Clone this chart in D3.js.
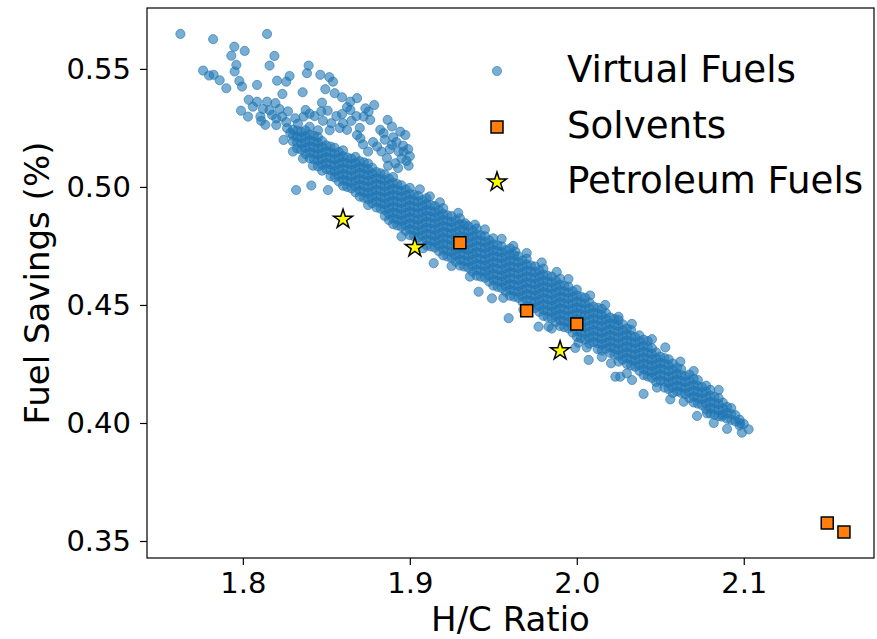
<!DOCTYPE html>
<html>
<head>
<meta charset="utf-8">
<script src="https://cdn.jsdelivr.net/npm/d3@7"></script>
<style>
  body { margin: 0; background: #fff; }
  text { font-family: "DejaVu Sans", sans-serif; fill: #000; }
</style>
</head>
<body>
<div id="chart"></div>
<script>
var width = 877;
var height = 639;
var margin = {top: 8, right: 3, bottom: 81, left: 147};

// tick values
var xTicks = [1.8, 1.9, 2.0, 2.1];
var yTicks = [0.35, 0.40, 0.45, 0.50, 0.55];

var seriesNames = ["Virtual Fuels", "Solvents", "Petroleum Fuels"];

// solvents (H/C ratio, fuel savings)
var solventHC = [1.930, 1.970, 2.000, 2.150, 2.160];
var solventFS = [0.4763, 0.4475, 0.4419, 0.3576, 0.3538];

// petroleum fuels
var petroHC = [1.860, 1.903, 1.990];
var petroFS = [0.4863, 0.4743, 0.4306];

// virtual fuels, dense band read column by column: [H/C, [fuel savings...]]
var virtualBand = [
  [1.830, [0.5193, 0.5218, 0.5243]],
  [1.8325, [0.5163, 0.5188, 0.5213, 0.5238]],
  [1.835, [0.5158, 0.5183, 0.5208, 0.5233]],
  [1.8375, [0.5140, 0.5165, 0.5190, 0.5215, 0.5240]],
  [1.840, [0.5122, 0.5147, 0.5172, 0.5197, 0.5222]],
  [1.8425, [0.5117, 0.5142, 0.5167, 0.5192, 0.5217]],
  [1.845, [0.5087, 0.5112, 0.5137, 0.5162, 0.5187, 0.5212]],
  [1.8475, [0.5069, 0.5094, 0.5119, 0.5144, 0.5169, 0.5194]],
  [1.850, [0.5076, 0.5101, 0.5126, 0.5151, 0.5176]],
  [1.8525, [0.5046, 0.5071, 0.5096, 0.5121, 0.5146, 0.5171]],
  [1.855, [0.5040, 0.5065, 0.5090, 0.5116, 0.5141, 0.5166]],
  [1.8575, [0.5023, 0.5048, 0.5073, 0.5098, 0.5123, 0.5148]],
  [1.860, [0.5005, 0.5030, 0.5055, 0.5080, 0.5105, 0.5130, 0.5155]],
  [1.8625, [0.5000, 0.5025, 0.5050, 0.5075, 0.5100, 0.5125]],
  [1.865, [0.4994, 0.5019, 0.5044, 0.5070, 0.5095, 0.5120]],
  [1.8675, [0.4977, 0.5002, 0.5027, 0.5052, 0.5077, 0.5102, 0.5127]],
  [1.870, [0.4959, 0.4984, 0.5009, 0.5034, 0.5059, 0.5084, 0.5109]],
  [1.8725, [0.4954, 0.4979, 0.5004, 0.5029, 0.5054, 0.5079, 0.5104]],
  [1.875, [0.4923, 0.4948, 0.4973, 0.4998, 0.5024, 0.5049, 0.5074, 0.5099]],
  [1.8775, [0.4931, 0.4956, 0.4981, 0.5006, 0.5031, 0.5056, 0.5081]],
  [1.880, [0.4913, 0.4938, 0.4963, 0.4988, 0.5013, 0.5038, 0.5063]],
  [1.8825, [0.4908, 0.4933, 0.4958, 0.4983, 0.5008, 0.5033, 0.5058]],
  [1.885, [0.4877, 0.4902, 0.4927, 0.4952, 0.4978, 0.5003, 0.5028, 0.5053]],
  [1.8875, [0.4860, 0.4885, 0.4910, 0.4935, 0.4960, 0.4985, 0.5010, 0.5035]],
  [1.890, [0.4842, 0.4867, 0.4892, 0.4917, 0.4942, 0.4967, 0.4992, 0.5017, 0.5042]],
  [1.8925, [0.4837, 0.4862, 0.4887, 0.4912, 0.4937, 0.4962, 0.4987, 0.5012]],
  [1.895, [0.4831, 0.4856, 0.4881, 0.4906, 0.4932, 0.4957, 0.4982, 0.5007]],
  [1.8975, [0.4814, 0.4839, 0.4864, 0.4889, 0.4914, 0.4939, 0.4964, 0.4989]],
  [1.900, [0.4796, 0.4821, 0.4846, 0.4871, 0.4896, 0.4921, 0.4946, 0.4971, 0.4996]],
  [1.9025, [0.4791, 0.4816, 0.4841, 0.4866, 0.4891, 0.4916, 0.4941, 0.4966]],
  [1.905, [0.4786, 0.4811, 0.4836, 0.4861, 0.4887, 0.4912, 0.4937, 0.4962]],
  [1.9075, [0.4769, 0.4794, 0.4819, 0.4844, 0.4869, 0.4894, 0.4919, 0.4944]],
  [1.910, [0.4752, 0.4777, 0.4802, 0.4827, 0.4852, 0.4877, 0.4902, 0.4927, 0.4952]],
  [1.9125, [0.4748, 0.4773, 0.4798, 0.4823, 0.4848, 0.4873, 0.4898, 0.4923]],
  [1.915, [0.4743, 0.4768, 0.4793, 0.4818, 0.4844, 0.4869, 0.4894, 0.4919]],
  [1.9175, [0.4727, 0.4752, 0.4777, 0.4802, 0.4827, 0.4852, 0.4877, 0.4902]],
  [1.920, [0.4710, 0.4735, 0.4760, 0.4785, 0.4810, 0.4835, 0.4860, 0.4885, 0.4910]],
  [1.9225, [0.4705, 0.4730, 0.4755, 0.4780, 0.4805, 0.4830, 0.4855, 0.4880]],
  [1.925, [0.4700, 0.4725, 0.4750, 0.4775, 0.4801, 0.4826, 0.4851, 0.4876]],
  [1.9275, [0.4684, 0.4709, 0.4734, 0.4759, 0.4784, 0.4809, 0.4834, 0.4859]],
  [1.930, [0.4667, 0.4692, 0.4717, 0.4742, 0.4767, 0.4792, 0.4817, 0.4842, 0.4867]],
  [1.9325, [0.4663, 0.4688, 0.4713, 0.4738, 0.4763, 0.4788, 0.4813, 0.4838]],
  [1.935, [0.4658, 0.4683, 0.4708, 0.4733, 0.4759, 0.4784, 0.4809, 0.4834]],
  [1.9375, [0.4641, 0.4666, 0.4691, 0.4716, 0.4741, 0.4766, 0.4791, 0.4816]],
  [1.940, [0.4624, 0.4649, 0.4674, 0.4699, 0.4724, 0.4749, 0.4774, 0.4799, 0.4824]],
  [1.9425, [0.4620, 0.4645, 0.4670, 0.4695, 0.4720, 0.4745, 0.4770, 0.4795]],
  [1.945, [0.4615, 0.4640, 0.4665, 0.4690, 0.4716, 0.4741, 0.4766, 0.4791]],
  [1.9475, [0.4599, 0.4624, 0.4649, 0.4674, 0.4699, 0.4724, 0.4749, 0.4774]],
  [1.950, [0.4582, 0.4607, 0.4632, 0.4657, 0.4682, 0.4707, 0.4732, 0.4757, 0.4782]],
  [1.9525, [0.4577, 0.4602, 0.4627, 0.4652, 0.4677, 0.4702, 0.4727, 0.4752]],
  [1.955, [0.4572, 0.4597, 0.4622, 0.4647, 0.4673, 0.4698, 0.4723, 0.4748]],
  [1.9575, [0.4556, 0.4581, 0.4606, 0.4631, 0.4656, 0.4681, 0.4706, 0.4731]],
  [1.960, [0.4539, 0.4564, 0.4589, 0.4614, 0.4639, 0.4664, 0.4689, 0.4714, 0.4739]],
  [1.9625, [0.4535, 0.4560, 0.4585, 0.4610, 0.4635, 0.4660, 0.4685, 0.4710]],
  [1.965, [0.4530, 0.4555, 0.4580, 0.4605, 0.4631, 0.4656, 0.4681, 0.4706]],
  [1.9675, [0.4513, 0.4538, 0.4563, 0.4588, 0.4613, 0.4638, 0.4663, 0.4688]],
  [1.970, [0.4496, 0.4521, 0.4546, 0.4571, 0.4596, 0.4621, 0.4646, 0.4671, 0.4696]],
  [1.9725, [0.4492, 0.4517, 0.4542, 0.4567, 0.4592, 0.4617, 0.4642, 0.4667]],
  [1.975, [0.4487, 0.4512, 0.4537, 0.4562, 0.4588, 0.4613, 0.4638, 0.4663]],
  [1.9775, [0.4471, 0.4496, 0.4521, 0.4546, 0.4571, 0.4596, 0.4621, 0.4646]],
  [1.980, [0.4454, 0.4479, 0.4504, 0.4529, 0.4554, 0.4579, 0.4604, 0.4629, 0.4654]],
  [1.9825, [0.4449, 0.4474, 0.4499, 0.4524, 0.4549, 0.4574, 0.4599, 0.4624]],
  [1.985, [0.4444, 0.4469, 0.4494, 0.4519, 0.4545, 0.4570, 0.4595, 0.4620]],
  [1.9875, [0.4428, 0.4453, 0.4478, 0.4503, 0.4528, 0.4553, 0.4578, 0.4603]],
  [1.990, [0.4411, 0.4436, 0.4461, 0.4486, 0.4511, 0.4536, 0.4561, 0.4586, 0.4611]],
  [1.9925, [0.4406, 0.4431, 0.4456, 0.4481, 0.4506, 0.4531, 0.4556, 0.4581]],
  [1.995, [0.4401, 0.4426, 0.4451, 0.4476, 0.4502, 0.4527, 0.4552, 0.4577]],
  [1.9975, [0.4383, 0.4408, 0.4433, 0.4458, 0.4483, 0.4508, 0.4533, 0.4558]],
  [2.000, [0.4365, 0.4390, 0.4415, 0.4440, 0.4465, 0.4490, 0.4515, 0.4540, 0.4565]],
  [2.0025, [0.4360, 0.4385, 0.4410, 0.4435, 0.4460, 0.4485, 0.4510, 0.4535]],
  [2.005, [0.4354, 0.4379, 0.4404, 0.4429, 0.4455, 0.4480, 0.4505, 0.4530]],
  [2.0075, [0.4336, 0.4361, 0.4386, 0.4411, 0.4436, 0.4461, 0.4486, 0.4511]],
  [2.010, [0.4343, 0.4368, 0.4393, 0.4418, 0.4443, 0.4468, 0.4493]],
  [2.0125, [0.4313, 0.4338, 0.4363, 0.4388, 0.4413, 0.4438, 0.4463, 0.4488]],
  [2.015, [0.4307, 0.4332, 0.4357, 0.4382, 0.4408, 0.4433, 0.4458, 0.4483]],
  [2.0175, [0.4315, 0.4340, 0.4365, 0.4390, 0.4415, 0.4440, 0.4465]],
  [2.020, [0.4297, 0.4322, 0.4347, 0.4372, 0.4397, 0.4422, 0.4447]],
  [2.0225, [0.4291, 0.4316, 0.4341, 0.4366, 0.4391, 0.4416, 0.4441]],
  [2.025, [0.4260, 0.4285, 0.4310, 0.4335, 0.4361, 0.4386, 0.4411, 0.4436]],
  [2.0275, [0.4268, 0.4293, 0.4318, 0.4343, 0.4368, 0.4393, 0.4418]],
  [2.030, [0.4250, 0.4275, 0.4300, 0.4325, 0.4350, 0.4375, 0.4400]],
  [2.0325, [0.4244, 0.4269, 0.4294, 0.4319, 0.4344, 0.4369, 0.4394]],
  [2.035, [0.4238, 0.4263, 0.4288, 0.4314, 0.4339, 0.4364]],
  [2.0375, [0.4221, 0.4246, 0.4271, 0.4296, 0.4321, 0.4346, 0.4371]],
  [2.040, [0.4203, 0.4228, 0.4253, 0.4278, 0.4303, 0.4328, 0.4353]],
  [2.0425, [0.4197, 0.4222, 0.4247, 0.4272, 0.4297, 0.4322, 0.4347]],
  [2.045, [0.4191, 0.4216, 0.4241, 0.4267, 0.4292, 0.4317]],
  [2.0475, [0.4174, 0.4199, 0.4224, 0.4249, 0.4274, 0.4299]],
  [2.050, [0.4181, 0.4206, 0.4231, 0.4256, 0.4281]],
  [2.0525, [0.4150, 0.4175, 0.4200, 0.4225, 0.4250, 0.4275]],
  [2.055, [0.4144, 0.4169, 0.4194, 0.4220, 0.4245, 0.4270]],
  [2.0575, [0.4127, 0.4152, 0.4177, 0.4202, 0.4227, 0.4252]],
  [2.060, [0.4134, 0.4159, 0.4184, 0.4209, 0.4234]],
  [2.0625, [0.4128, 0.4153, 0.4178, 0.4203, 0.4228]],
  [2.065, [0.4122, 0.4147, 0.4173, 0.4198]],
  [2.0675, [0.4105, 0.4130, 0.4155, 0.4180, 0.4205]],
  [2.070, [0.4087, 0.4112, 0.4137, 0.4162, 0.4187]],
  [2.0725, [0.4082, 0.4107, 0.4132, 0.4157, 0.4182]],
  [2.075, [0.4076, 0.4101, 0.4127, 0.4152]],
  [2.0775, [0.4058, 0.4083, 0.4108, 0.4133, 0.4158]],
  [2.080, [0.4040, 0.4065, 0.4090, 0.4115, 0.4140]],
  [2.0825, [0.4035, 0.4060, 0.4085, 0.4110]],
  [2.085, [0.4029, 0.4054, 0.4080, 0.4105]],
  [2.0875, [0.4036, 0.4061, 0.4086]],
  [2.090, [0.4018, 0.4043, 0.4068]],
  [2.0925, [0.4013, 0.4038, 0.4063]],
  [2.095, [0.4007, 0.4033]],
  [2.0975, [0.3989, 0.4014]],
  [2.100, [0.3996]]
];

// virtual fuels, scattered points outside the dense band
var virtualScatter = [
  [1.7626, 0.5648], [1.7822, 0.5626], [1.8145, 0.5648], [1.7949, 0.5594], [1.8011, 0.5576],
  [1.7931, 0.5556], [1.8189, 0.5555], [1.8160, 0.5514], [1.8394, 0.5514], [1.7961, 0.5517],
  [1.7951, 0.5489], [1.7762, 0.5493], [1.7798, 0.5472], [1.7825, 0.5475], [1.7861, 0.5452],
  [1.7901, 0.5418], [1.7979, 0.5449], [1.7995, 0.5425], [1.8085, 0.5432], [1.8205, 0.5450],
  [1.8260, 0.5446], [1.8280, 0.5470], [1.8384, 0.5482], [1.8464, 0.5475], [1.8518, 0.5465],
  [1.8540, 0.5446], [1.8237, 0.5394], [1.8358, 0.5401], [1.8494, 0.5414], [1.8550, 0.5397],
  [1.8594, 0.5380], [1.8474, 0.5357], [1.8508, 0.5323], [1.8035, 0.5369], [1.8085, 0.5361],
  [1.8145, 0.5361], [1.8195, 0.5355], [1.7989, 0.5323], [1.8031, 0.5298], [1.8105, 0.5298],
  [1.8175, 0.5305], [1.8135, 0.5263], [1.8235, 0.5298], [1.8376, 0.5326], [1.8314, 0.5291],
  [1.8364, 0.5298], [1.8265, 0.5249], [1.8644, 0.5361], [1.8684, 0.5376], [1.8624, 0.5338],
  [1.8644, 0.5326], [1.8594, 0.5309], [1.8734, 0.5333], [1.8753, 0.5319], [1.8787, 0.5347],
  [1.8723, 0.5298], [1.8763, 0.5284], [1.8624, 0.5242], [1.8684, 0.5220], [1.8704, 0.5206],
  [1.8867, 0.5284], [1.8893, 0.5256], [1.8823, 0.5242], [1.8843, 0.5228], [1.8943, 0.5234],
  [1.8973, 0.5220], [1.8893, 0.5178], [1.8933, 0.5150], [1.8963, 0.5150], [1.8993, 0.5090],
  [1.8863, 0.5122], [1.8913, 0.5100], [1.8804, 0.5171], [1.8319, 0.4987], [1.8410, 0.5006],
  [1.8510, 0.4987], [1.8244, 0.5199], [1.8284, 0.5228], [1.8260, 0.5275], [1.8330, 0.5268],
  [1.8400, 0.5255], [1.8450, 0.5240], [1.8200, 0.5262], [1.8300, 0.5150], [1.8360, 0.5120],
  [1.8420, 0.5090], [1.9143, 0.4677], [1.9412, 0.4556], [1.9492, 0.4528], [1.9592, 0.4444],
  [1.9771, 0.4408], [1.9831, 0.4408], [1.9991, 0.4318], [2.0071, 0.4267], [2.0205, 0.4253],
  [2.0231, 0.4196], [2.0260, 0.4196], [2.0331, 0.4182], [2.0400, 0.4123], [2.0780, 0.4041],
  [2.0869, 0.4027], [2.0979, 0.3999], [2.0989, 0.3959], [2.1029, 0.3973], [1.9332, 0.4846],
  [1.9632, 0.4726], [1.9060, 0.4990], [1.9180, 0.4935], [1.9390, 0.4840], [1.9550, 0.4780],
  [1.9700, 0.4720], [1.9880, 0.4640], [2.0080, 0.4540], [2.0250, 0.4450], [2.0450, 0.4355],
  [2.0620, 0.4260], [1.8950, 0.4790], [1.9250, 0.4665], [1.9560, 0.4530], [1.9700, 0.4470],
  [2.0010, 0.4340], [2.0150, 0.4280], [2.0480, 0.4150], [2.0640, 0.4090], [2.0820, 0.4000],
  // upper tail and upper-left cluster
  [1.8850, 0.5200], [1.8900, 0.5210], [1.8920, 0.5190], [1.8960, 0.5175], [1.8990, 0.5160],
  [1.8880, 0.5160], [1.8830, 0.5150], [1.8950, 0.5120], [1.8980, 0.5110], [1.9000, 0.5130],
  [1.8930, 0.5080], [1.8870, 0.5090], [1.8780, 0.5190], [1.8750, 0.5150], [1.8720, 0.5180],
  [1.8430, 0.5300], [1.8480, 0.5280], [1.8530, 0.5270], [1.8560, 0.5300], [1.8580, 0.5250],
  [1.8520, 0.5240], [1.8470, 0.5320], [1.8400, 0.5310], [1.8600, 0.5270], [1.8650, 0.5280],
  [1.8680, 0.5300], [1.8700, 0.5250], [1.8060, 0.5340], [1.8120, 0.5330], [1.8160, 0.5325],
  [1.8220, 0.5330], [1.8270, 0.5320], [1.8110, 0.5280], [1.8200, 0.5290],
  // fuzzy upper and lower edges of the band
  [1.9120, 0.4960], [1.9290, 0.4890], [1.9450, 0.4820], [1.9620, 0.4750], [1.9790, 0.4680],
  [1.9950, 0.4610], [2.0170, 0.4500], [2.0330, 0.4420], [2.0530, 0.4320], [2.0700, 0.4220],
  [2.0850, 0.4140], [1.9080, 0.4740], [1.9360, 0.4620], [1.9680, 0.4480], [1.9850, 0.4400],
  [2.0060, 0.4320], [2.0300, 0.4210], [2.0560, 0.4100], [2.0720, 0.4030], [2.0900, 0.3975]
];

var virtualFuels = [];
virtualBand.forEach(function(col) {
  col[1].forEach(function(v) {
    virtualFuels.push({hc: col[0], fs: v})
  })
});
virtualScatter.forEach(function(p) {
  virtualFuels.push({hc: p[0], fs: p[1]})
});

var solvents = solventHC.map(function(d, i) { return {hc: d, fs: solventFS[i]} });
var petroleum = petroHC.map(function(d, i) { return {hc: d, fs: petroFS[i]} });

var svg = d3.select("#chart").append("svg")
  .attr("width", width)
  .attr("height", height)

var x = d3.scaleLinear().domain([1.7426, 2.178]).range([margin.left, width - margin.right])
var y = d3.scaleLinear().domain([0.3428, 0.5758]).range([height - margin.bottom, margin.top])

var blue = "#1f77b4";
var starPath = d3.symbol().type(d3.symbolStar).size(112);
var squarePath = d3.symbol().type(d3.symbolSquare).size(144);

// virtual fuels
svg.append("g").selectAll("circle")
  .data(virtualFuels)
  .enter().append("circle")
  .attr("cx", function(d) { return x(d.hc) })
  .attr("cy", function(d) { return y(d.fs) })
  .attr("r", 4.6)
  .attr("fill", blue)
  .attr("fill-opacity", 0.6)
  .attr("stroke", blue)
  .attr("stroke-opacity", 0.6)
  .attr("stroke-width", 1)

// solvents
svg.append("g").selectAll("path")
  .data(solvents)
  .enter().append("path")
  .attr("d", squarePath)
  .attr("transform", function(d) { return "translate(" + x(d.hc) + "," + y(d.fs) + ")" })
  .attr("fill", "#ff7f0e")
  .attr("stroke", "#000")
  .attr("stroke-width", 1.5)

// petroleum fuels
svg.append("g").selectAll("path")
  .data(petroleum)
  .enter().append("path")
  .attr("d", starPath)
  .attr("transform", function(d) { return "translate(" + x(d.hc) + "," + y(d.fs) + ")" })
  .attr("fill", "#ffff00")
  .attr("stroke", "#000")
  .attr("stroke-width", 1.5)

// axes
var xAxis = svg.append("g")
  .attr("transform", "translate(0," + (height - margin.bottom) + ")")
  .call(d3.axisBottom(x).tickValues(xTicks).tickFormat(d3.format(".1f")).tickSize(7).tickPadding(7))

var yAxis = svg.append("g")
  .attr("transform", "translate(" + margin.left + ",0)")
  .call(d3.axisLeft(y).tickValues(yTicks).tickFormat(d3.format(".2f")).tickSize(7).tickPadding(9))

;[xAxis, yAxis].forEach(function(g) {
  g.select(".domain").remove()
  g.selectAll(".tick line").attr("stroke", "#000").attr("stroke-width", 1.2)
  g.selectAll(".tick text")
    .attr("font-size", "29px")
    .attr("font-family", "DejaVu Sans")
    .attr("fill", "#000")
});

// frame
svg.append("rect")
  .attr("x", margin.left)
  .attr("y", margin.top)
  .attr("width", width - margin.left - margin.right)
  .attr("height", height - margin.top - margin.bottom)
  .attr("fill", "none")
  .attr("stroke", "#000")
  .attr("stroke-width", 1.2)

// axis titles
svg.append("text")
  .attr("x", (margin.left + width - margin.right) / 2)
  .attr("y", 631)
  .attr("text-anchor", "middle")
  .attr("font-size", "34px")
  .text("H/C Ratio")

svg.append("text")
  .attr("transform", "rotate(-90)")
  .attr("x", -(margin.top + height - margin.bottom) / 2)
  .attr("y", 49)
  .attr("text-anchor", "middle")
  .attr("font-size", "34px")
  .text("Fuel Savings (%)")

// legend
var legend = svg.append("g").attr("transform", "translate(497,0)")
var rows = [71, 127, 182];

legend.append("circle")
  .attr("cx", 0).attr("cy", rows[0]).attr("r", 4.6)
  .attr("fill", blue).attr("fill-opacity", 0.6)
  .attr("stroke", blue).attr("stroke-opacity", 0.6)

legend.append("path")
  .attr("d", squarePath)
  .attr("transform", "translate(0," + rows[1] + ")")
  .attr("fill", "#ff7f0e").attr("stroke", "#000").attr("stroke-width", 1.5)

legend.append("path")
  .attr("d", starPath)
  .attr("transform", "translate(0," + rows[2] + ")")
  .attr("fill", "#ffff00").attr("stroke", "#000").attr("stroke-width", 1.5)

legend.selectAll("text.label")
  .data(seriesNames)
  .enter().append("text")
  .attr("class", "label")
  .attr("x", 70)
  .attr("y", function(d, i) { return rows[i] + 11 })
  .attr("font-size", "37.2px")
  .text(function(d) { return d })
</script>
</body>
</html>
